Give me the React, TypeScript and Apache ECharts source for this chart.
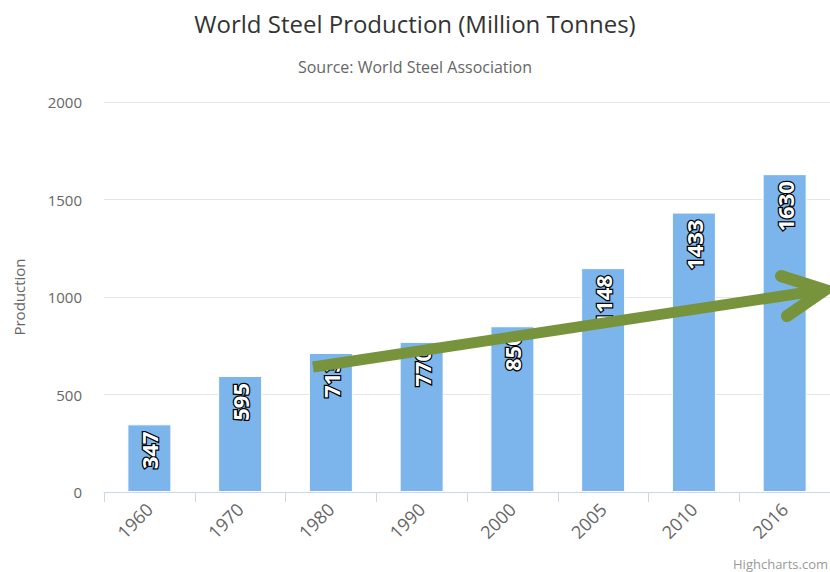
import React, { useEffect, useRef } from "react";
import * as echarts from "echarts";

const categories = ["1960", "1970", "1980", "1990", "2000", "2005", "2010", "2016"];
const production = [347, 595, 713, 770, 850, 1148, 1433, 1630];
const yTicks = [0, 500, 1000, 1500, 2000];

const FONT = "'Open Sans', 'DejaVu Sans', sans-serif";

export default function App() {
  const ref = useRef<HTMLDivElement>(null);
  useEffect(() => {
    if (!ref.current) return;
    const chart = echarts.init(ref.current, undefined, { renderer: "svg" });
    const arrowColor = "#77933c";
    chart.setOption({
      animation: false,
      backgroundColor: "#ffffff",
      title: {
        text: "World Steel Production (Million Tonnes)",
        subtext: "Source: World Steel Association",
        left: "center",
        top: 6,
        itemGap: 24,
        textStyle: { fontFamily: FONT, fontSize: 24, fontWeight: "normal", color: "#333333" },
        subtextStyle: { fontFamily: FONT, fontSize: 16, color: "#666666" },
      },
      grid: { left: 104, right: -10, top: 102, bottom: 80, containLabel: false },
      xAxis: {
        type: "category",
        data: categories,
        boundaryGap: true,
        axisLine: { show: true, lineStyle: { color: "#ccd6eb", width: 1 } },
        axisTick: { show: true, length: 10, alignWithLabel: false, lineStyle: { color: "#ccd6eb" } },
        axisLabel: {
          rotate: 45,
          margin: 14,
          fontFamily: FONT,
          fontSize: 18,
          color: "#666666",
        },
      },
      yAxis: {
        type: "value",
        min: yTicks[0],
        max: yTicks[yTicks.length - 1],
        interval: 500,
        name: "Production",
        nameLocation: "middle",
        nameGap: 78,
        nameRotate: 90,
        nameTextStyle: { fontFamily: FONT, fontSize: 15, color: "#666666" },
        axisLine: { show: false },
        axisTick: { show: false },
        axisLabel: {
          fontFamily: FONT,
          fontSize: 15,
          color: "#666666",
          margin: 22,
          formatter: (v: number) => String(v),
        },
        splitLine: { lineStyle: { color: "#e6e6e6", width: 1 } },
      },
      series: [
        {
          type: "bar",
          data: production,
          barWidth: 44,
          itemStyle: { color: "#7cb5ec", borderColor: "#ffffff", borderWidth: 1 },
          label: {
            show: true,
            position: "insideTop",
            distance: 7,
            rotate: 90,
            align: "right",
            verticalAlign: "middle",
            fontFamily: FONT,
            fontSize: 22,
            fontWeight: "bold",
            color: "#ffffff",
            textBorderColor: "#000000",
            textBorderWidth: 2.5,
          },
        },
      ],
      graphic: [
        {
          type: "text",
          right: 2,
          bottom: 2,
          style: { text: "Highcharts.com", fontFamily: FONT, fontSize: 13, fill: "#999999" },
        },
        {
          type: "line",
          shape: { x1: 313, y1: 367, x2: 822, y2: 290 },
          style: { stroke: arrowColor, lineWidth: 11, lineCap: "butt" },
          z: 100,
        },
        {
          type: "polyline",
          shape: { points: [[781, 276], [825, 290], [787, 316]] },
          style: { stroke: arrowColor, lineWidth: 12, lineCap: "round", lineJoin: "miter", fill: "none" },
          z: 100,
        },
      ],
    });
    return () => chart.dispose();
  }, []);
  return <div ref={ref} style={{ width: 830, height: 572, position: "absolute", left: 0, top: 0 }} />;
}
